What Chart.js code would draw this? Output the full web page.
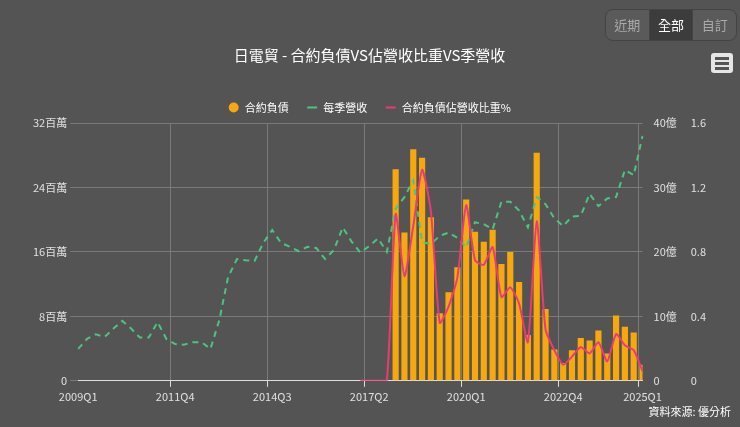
<!DOCTYPE html>
<html>
<head>
<meta charset="utf-8">
<script src="https://cdn.jsdelivr.net/npm/chart.js@4"></script>
<style>
  html, body { margin: 0; padding: 0; background: #545454; font-family: "Noto Sans CJK TC", "Noto Sans", sans-serif; }
  #wrap { position: relative; width: 740px; height: 427px; }
  #btns { position: absolute; left: 605px; top: 9px; width: 132px; height: 32px; border: 1px solid #444; border-radius: 8px; display: flex; overflow: hidden; background: #5a5a5a; box-sizing: border-box; }
  #btns div { flex: 1; text-align: center; line-height: 30px; font-size: 13px; color: #aaa; border-right: 1px solid #444; }
  #btns div.on { background: #3c3c3c; color: #fff; }
  #menu { position: absolute; left: 711px; top: 53px; width: 22px; height: 20px; background: #e6e6e6; border-radius: 3px; }
  #menu span { position: absolute; left: 4px; width: 14px; height: 3px; background: #555; }
  #src { position: absolute; right: 9px; top: 403px; font-size: 11px; color: #fff; }
</style>
</head>
<body>
<div id="wrap">
  <canvas id="c" width="740" height="427"></canvas>
  <div id="btns"><div>近期</div><div class="on">全部</div><div style="border:none">自訂</div></div>
  <div id="menu"><span style="top:4px"></span><span style="top:9px"></span><span style="top:14px"></span></div>
  <div id="src">資料來源: 優分析</div>
</div>
<script>
// Quarters 2009Q1 .. 2025Q1
const quarters = [];
for (let y = 2009; y <= 2025; y++) for (let q = 1; q <= 4; q++) if (!(y === 2025 && q > 1)) quarters.push(y + "Q" + q);

// 合約負債 (百萬), from 2018Q1
const contractLiab = [
  null, null, null, null, null, null, null, null, null, null,
  null, null, null, null, null, null, null, null, null, null,
  null, null, null, null, null, null, null, null, null, null,
  null, null, null, null, null, null,
  26.25, 18.4, 28.75, 27.7, 20.3, 8.4, 11.0, 14.1, 22.5, 18.5,
  17.25, 18.75, 14.5, 16.0, 12.25, 5.7, 28.3, 8.9, 3.9, 2.2,
  3.8, 5.3, 5.0, 6.25, 3.4, 8.1, 6.7, 6.0, 2.0
];

// 每季營收 (億)
const revenue = [
  4.95, 6.5, 7.2, 6.8, 8.1, 9.3, 8.1, 6.7, 6.7, 9.1,
  6.5, 5.7, 5.6, 6.0, 6.0, 4.95, 9.4, 16.1, 18.9, 18.7,
  18.6, 21.4, 23.4, 21.4, 20.8, 20.1, 20.8, 20.6, 18.9, 20.3,
  23.8, 21.6, 19.9, 20.9, 22.1, 20.0,
  26.7, 28.5, 31.1, 21.5, 21.2, 22.5, 23.0, 22.2, 20.7, 24.6,
  24.3, 23.5, 27.8, 27.8, 26.4, 23.8, 28.5, 27.4, 25.2, 24.0,
  25.5, 25.6, 29.0, 27.1, 28.3, 28.5, 32.7, 31.9, 38.0
];

// 合約負債佔營收比重%
const ratio = [
  null, null, null, null, null, null, null, null, null, null,
  null, null, null, null, null, null, null, null, null, null,
  null, null, null, null, null, null, null, null, null, null,
  null, null, 0, 0, 0, 0,
  1.035, 0.65, 0.96, 1.31, 1.05, 0.36, 0.46, 0.64, 1.09, 0.75,
  0.72, 0.83, 0.52, 0.58, 0.48, 0.24, 0.99, 0.32, 0.19, 0.10,
  0.15, 0.21, 0.17, 0.24, 0.12, 0.29, 0.22, 0.19, 0.06
];

const shownTicks = ["2009Q1", "2011Q4", "2014Q3", "2017Q2", "2020Q1", "2022Q4", "2025Q1"];
const tickColor = "#e0e0e0";
const font = { family: "'Noto Sans CJK TC', 'Noto Sans', sans-serif", size: 11 };

new Chart(document.getElementById("c"), {
  data: {
    labels: quarters,
    datasets: [
      { type: "bar", label: "合約負債", data: contractLiab, yAxisID: "y", backgroundColor: "#f7a80d",
        barPercentage: 0.7, categoryPercentage: 1, pointStyle: "circle", order: 3 },
      { type: "line", label: "每季營收", data: revenue, yAxisID: "y1", borderColor: "#4cc47f", borderWidth: 2,
        borderDash: [6, 5], pointRadius: 0, tension: 0, pointStyle: "line", order: 2 },
      { type: "line", label: "合約負債佔營收比重%", data: ratio, yAxisID: "y2", borderColor: "#ec3b72", borderWidth: 2,
        pointRadius: 0, tension: 0.2, pointStyle: "line", order: 1 }
    ]
  },
  options: {
    responsive: false,
    animation: false,
    layout: { padding: { left: 30, right: 31, top: 40, bottom: 21 } },
    plugins: {
      title: { display: true, text: "日電貿 - 合約負債VS佔營收比重VS季營收", color: "#fff",
        font: { family: font.family, size: 15, weight: "normal" }, padding: { top: 6, bottom: 20 } },
      legend: { labels: { color: "#fff", font: font, usePointStyle: true, boxWidth: 14, boxHeight: 7, padding: 18,
        sort: (a, b) => a.datasetIndex - b.datasetIndex } },
      tooltip: { mode: "index", intersect: false }
    },
    scales: {
      x: {
        offset: false,
        ticks: { color: tickColor, font: font, autoSkip: false, maxRotation: 0,
          callback: function (v) { const l = this.getLabelForValue(v); return shownTicks.includes(l) ? l : ""; } },
        grid: { color: (ctx) => shownTicks.includes(quarters[ctx.index]) ? "#7a7a7a" : "transparent",
          tickColor: (ctx) => shownTicks.includes(quarters[ctx.index]) ? "#ddd" : "transparent", tickLength: 6 },
        border: { color: "#ddd" }
      },
      y: {
        min: 0, max: 32,
        ticks: { stepSize: 8, color: tickColor, font: font, callback: (v) => v === 0 ? "0" : v + "百萬" },
        grid: { color: "#7a7a7a" }, border: { display: false }
      },
      y1: {
        position: "right", min: 0, max: 40,
        ticks: { stepSize: 10, color: tickColor, font: font, callback: (v) => v === 0 ? "0" : v + "億" },
        grid: { display: false }, border: { display: false }
      },
      y2: {
        position: "right", min: 0, max: 1.6,
        ticks: { stepSize: 0.4, color: tickColor, font: font, callback: (v) => v === 0 ? "0" : v.toFixed(1) },
        grid: { display: false }, border: { display: false }
      }
    }
  }
});
</script>
</body>
</html>
